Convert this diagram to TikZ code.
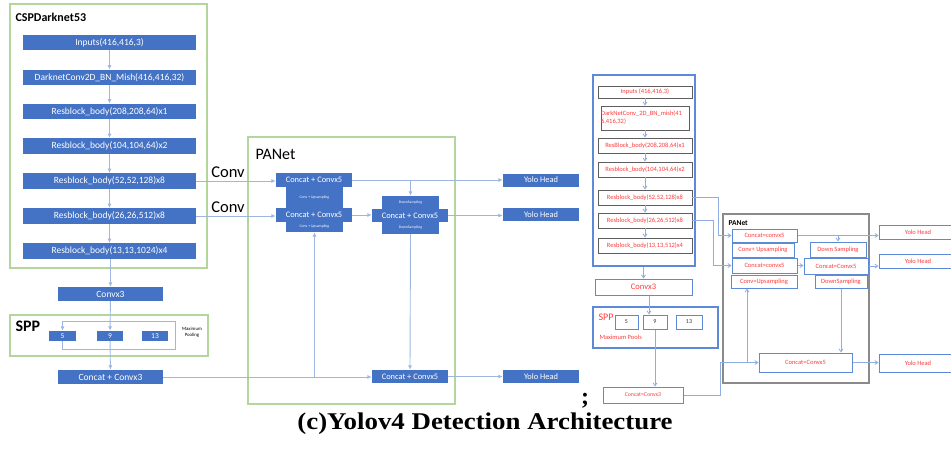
\documentclass[tikz,border=0pt]{standalone}
\usepackage{fontspec}
\setmainfont{Carlito}
\newfontfamily\capfont{Liberation Serif}
\usetikzlibrary{arrows.meta}

\definecolor{boxblue}{HTML}{4472C4}
\definecolor{linkblue}{HTML}{9FB7E0}
\definecolor{framegreen}{HTML}{B4D69C}
\definecolor{redtxt}{HTML}{FF3B3B}
\definecolor{outblue}{HTML}{5D8AD6}
\definecolor{graybd}{HTML}{5E5E5E}
\definecolor{panetgray}{HTML}{8A8A8A}

\tikzset{
  fsz/.style={font=\fontsize{#1}{#1}\selectfont},
  bfsz/.style={font=\bfseries\fontsize{#1}{#1}\selectfont},
  bb/.style={fill=boxblue, draw=none, text=white, inner sep=0pt},
  tinyw/.style={bb, fsz=3.8},
  greenframe/.style={draw=framegreen, line width=1.4},
  ln/.style={draw=linkblue, line width=0.9},
  arr/.style={ln, -{Latex[length=4.5pt,width=4pt]}},
  rarr/.style={draw=outblue!70, line width=0.8, -{Straight Barb[length=3pt,width=4pt]}},
  rbox/.style={draw=graybd, line width=0.9, fill=white, text=redtxt, inner sep=0pt, fsz=6.5},
  rpan/.style={draw=outblue, line width=1, fill=white, text=redtxt, inner sep=0pt, fsz=6.5},
  rnum/.style={draw=outblue, line width=1, fill=white, text=black!80, inner sep=0pt, fsz=6},
}

\begin{document}
\begin{tikzpicture}[x=1pt,y=-1pt]
\useasboundingbox (0,0) rectangle (951,448);

% ---------------- CSPDarknet53 backbone ----------------
\draw[greenframe] (10,4) rectangle (207,268);
\node[anchor=west, bfsz=12] (csplab) at (12,17) {CSPDarknet53};

\foreach \n/\y/\t in {in1/42.5/{Inputs(416,416,3)},
                      in2/77.5/{DarknetConv2D\_BN\_Mish(416,416,32)},
                      rb1/111.5/{Resblock\_body(208,208,64)x1},
                      rb2/146/{Resblock\_body(104,104,64)x2},
                      rb3/181/{Resblock\_body(52,52,128)x8},
                      rb4/216/{Resblock\_body(26,26,512)x8},
                      rb5/251/{Resblock\_body(13,13,1024)x4}}
  \node[bb, fsz=9.5, minimum width=173, minimum height=15.5] (\n) at (109.5,\y) {\t};

\draw[arr] (in1) -- (in2);
\draw[arr] (in2) -- (rb1);
\draw[arr] (rb1) -- (rb2);
\draw[arr] (rb2) -- (rb3);
\draw[arr] (rb3) -- (rb4);
\draw[arr] (rb4) -- (rb5);

\node[bb, fsz=9.5, minimum width=105, minimum height=14] (cv3) at (110.5,294) {Convx3};
\draw[arr] (rb5.south -| cv3.north) -- (cv3.north);

% ---------------- SPP ----------------
\draw[greenframe] (10,315) rectangle (208,356);
\node[anchor=west, bfsz=16] (spplab) at (12,326) {SPP};
\node[bb, fsz=7.5, minimum width=27, minimum height=10] (p5) at (62.5,336) {5};
\node[bb, fsz=7.5, minimum width=26, minimum height=10] (p9) at (110,336) {9};
\node[bb, fsz=7.5, minimum width=26, minimum height=10] (p13) at (155,336) {13};
\node[fsz=4.8, align=center, inner sep=0pt] (mpool) at (192,332) {Maximum\\[1.5pt]Pooling};
\coordinate (sppne) at (175,321);
\coordinate (sppse) at (175,349);
\draw[arr] (sppne) -| (p5.north);
\draw[ln] (sppne) -- (sppse) -| (p5.south);
\draw[arr] (cv3) -- (p9);

\node[bb, fsz=9.5, minimum width=105, minimum height=14] (cc3) at (110.5,377) {Concat + Convx3};
\draw[arr] (p9) -- (cc3);

% ---------------- PANet ----------------
\draw[greenframe] (248,137) rectangle (455,404);
\node[anchor=west, fsz=16] (panlab) at (252,154) {PANet};

\node[bb, fsz=8.4, minimum width=76, minimum height=14] (c1) at (314,180) {Concat + Convx5};
\node[tinyw, minimum width=57, minimum height=21] (u1) at (314.5,197.5) {Conv + Upsampling};
\node[bb, fsz=8.4, minimum width=76, minimum height=14] (c2) at (314,215) {Concat + Convx5};
\node[tinyw, minimum width=57, minimum height=10] (u2) at (314.5,227) {Conv + Upsampling};

\node[tinyw, minimum width=57, minimum height=13] (d1) at (410.5,202.5) {DownSampling};
\node[bb, fsz=8.4, minimum width=76, minimum height=13] (c3) at (410,215.5) {Concat + Convx5};
\node[tinyw, minimum width=57, minimum height=12] (d2) at (410.5,228) {DownSampling};
\node[bb, fsz=8.4, minimum width=76, minimum height=13] (c4) at (410,376.5) {Concat + Convx5};

\node[bb, fsz=8.4, minimum width=76, minimum height=13] (y1) at (541,180) {Yolo Head};
\node[bb, fsz=8.4, minimum width=76, minimum height=13] (y2) at (541,214.5) {Yolo Head};
\node[bb, fsz=8.4, minimum width=76, minimum height=13] (y3) at (541,376.5) {Yolo Head};

\draw[arr] (rb3.east) -- (rb3.east -| c1.west);
\draw[arr] (rb4.east) -- (rb4.east -| c2.west);
\node[fsz=16.5] (conv1) at (228,172) {Conv};
\node[fsz=16.5] (conv2) at (228,207) {Conv};

\draw[arr] (c1.east) -- (y1.west);
\draw[arr] (c1.east -| d1.north) -- (d1.north);
\draw[arr] (c2.east) -- (c2.east -| c3.west);
\draw[arr] (c3.east) -- (c3.east -| y2.west);
\draw[arr] (d2.south) -- (c4.north);
\draw[arr] (c4.east) -- (y3.west);
\draw[arr] (cc3.east) -- (cc3.east -| c4.west);
\draw[arr] (u2.south |- cc3.east) -- (u2.south);

% ---------------- second layout of the same network ----------------
\node[draw=outblue, line width=1.1, minimum width=102, minimum height=191, inner sep=0pt] (rcsp) at (644,170.5) {};

\node[rbox, minimum width=94, minimum height=12] (r1) at (645,92) {Inputs (416,416,3)};
\node[rbox, minimum height=24, text width=88, align=left] (r2) at (645,118) {DarkNetConv\_2D\_BN\_mish(41\\[1.5pt]6,416,32)};
\node[rbox, minimum width=94, minimum height=15] (r3) at (645,145.5) {ResBlock\_body(208,208,64)x1};
\node[rbox, minimum width=94, minimum height=15] (r4) at (645,169.5) {Resblock\_body(104,104,64)x2};
\node[rbox, minimum width=94, minimum height=15] (r5) at (645,197.5) {Resblock\_body(52,52,128)x8};
\node[rbox, minimum width=94, minimum height=15] (r6) at (645,220.5) {Resblock\_body(26,26,512)x8};
\node[rbox, minimum width=94, minimum height=15] (r7) at (645,245.5) {Resblock\_body(13,13,512)x4};

\draw[rarr] (r1) -- (r2);
\draw[rarr] (r2) -- (r3);
\draw[rarr] (r3) -- (r4);
\draw[rarr] (r4) -- (r5);
\draw[rarr] (r5) -- (r6);
\draw[rarr] (r6) -- (r7);

\node[rpan, fsz=8.5, minimum width=97, minimum height=16] (rcv) at (643.5,287) {Convx3};
\draw[rarr] (rcv.north |- rcsp.south) -- (rcv.north);

\node[draw=outblue, line width=1.1, minimum width=125, minimum height=41, inner sep=0pt] (rspp) at (655.5,327.5) {};
\node[anchor=west, text=redtxt, fsz=10] (rspplab) at (595,317) {SPP};
\node[anchor=west, text=redtxt, fsz=6.5] (rmp) at (596,337.5) {Maximum Pools};
\node[rnum, minimum width=23, minimum height=14] (q5) at (626.5,322) {5};
\node[rnum, minimum width=24, minimum height=14] (q9) at (655,322) {9};
\node[rnum, minimum width=26, minimum height=14] (q13) at (689,322) {13};
\draw[rarr] ([xshift=-6]q9.north |- rcv.south) -- ([xshift=-6]q9.north);

\node[rpan, fsz=5.8, minimum width=80, minimum height=16] (rcc3) at (643,395) {Concat=Convx3};
\draw[rarr] (q9.south) -- (q9.south |- rcc3.north);

% PANet
\draw[draw=panetgray, line width=1.2] (723,214) rectangle (869,383);
\node[anchor=west, bfsz=7.5] (rpanlab) at (725,223) {PANet};

\node[rpan, minimum width=65, minimum height=13] (rc1) at (764.5,235.5) {Concat=convx5};
\node[rpan, minimum width=62, minimum height=14] (ru1) at (763,250) {Conv+ Upsampling};
\node[rpan, minimum width=65, minimum height=15] (rc2) at (764.5,265.5) {Concat=convx5};
\node[rpan, minimum width=66, minimum height=13] (ru2) at (764,281.5) {Conv=Upsampling};
\node[rpan, minimum width=56, minimum height=15] (rd1) at (838,249.5) {Down Sampling};
\node[rpan, minimum width=64, minimum height=16] (rc3) at (836,266) {Concat=Convx5};
\node[rpan, minimum width=52, minimum height=13] (rd2) at (841,281.5) {DownSampling};
\node[rpan, minimum width=93, minimum height=19] (rc4) at (805.5,362.5) {Concat=Convx5};

\node[rpan, minimum width=78, minimum height=14] (ry1) at (918,232) {Yolo Head};
\node[rpan, minimum width=78, minimum height=14] (ry2) at (918,261) {Yolo Head};
\node[rpan, minimum width=78, minimum height=18] (ry3) at (918,363) {Yolo Head};

\draw[rarr] (r5.east) -- ++(26,0) |- (rc1.west);
\draw[rarr] (r6.east) -- ++(21,0) |- (rc2.west);
\draw[rarr] (rc1.east) -- (rc1.east -| ry1.west);
\draw[rarr] (rc1.east -| rd1.north) -- (rd1.north);
\draw[rarr] (rc2.east) -- (rc2.east -| rc3.west);
\draw[rarr] (rc3.east) -- (rc3.east -| ry2.west);
\draw[rarr] (rd2.south) -- (rd2.south |- rc4.north);
\draw[rarr] (rc4.east) -- (rc4.east -| ry3.west);
\draw[rarr] (rcc3.east) -- ++(37,0) |- (rc4.west);
\draw[rarr] ([xshift=-17]ru2.south |- rc4.west) -- ([xshift=-17]ru2.south);

% ---------------- caption ----------------
\node[font=\capfont\bfseries\fontsize{24}{24}\selectfont] (semi) at (585,401) {;};
\node[font=\capfont\bfseries\fontsize{24}{24}\selectfont, inner sep=0pt] (cap) at (485,424) {\scalebox{1.12}[1]{(c)Yolov4 Detection Architecture}};
\end{tikzpicture}
\end{document}
